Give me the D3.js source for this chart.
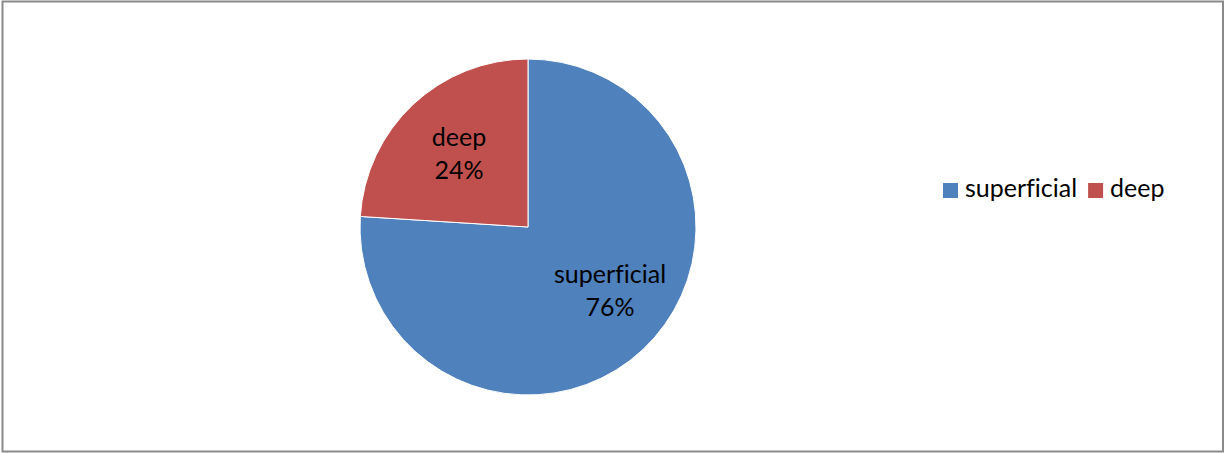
<!DOCTYPE html>
<html>
<head>
<meta charset="utf-8">
<script src="https://cdn.jsdelivr.net/npm/d3@7"></script>
<style>
  html, body { margin: 0; padding: 0; background: #fff; }
  svg { display: block; }
  text { font-family: "Lato", "Liberation Sans", sans-serif; fill: #000; font-variant-ligatures: none; }
</style>
</head>
<body>
<div id="chart"></div>
<script>
const categories = ["superficial", "deep"];
const values = [76, 24];
const colors = ["#4F81BD", "#C0504D"];

const width = 1225;
const height = 453;
const cx = 528, cy = 227, radius = 168;
const fontSize = 25;

const svg = d3.select("#chart")
  .append("svg")
  .attr("width", width)
  .attr("height", height);

// chart frame
svg.append("rect")
  .attr("x", 2.5)
  .attr("y", 1.5)
  .attr("width", 1220.5)
  .attr("height", 450)
  .attr("fill", "#fff")
  .attr("stroke", "#8a8a8a")
  .attr("stroke-width", 2);

const data = categories.map((c, i) => ({ name: c, value: values[i], color: colors[i] }));

const pie = d3.pie()
  .sort(null)
  .value(d => d.value);

const arc = d3.arc().innerRadius(0).outerRadius(radius);
const labelArc = d3.arc().innerRadius(radius * 0.6).outerRadius(radius * 0.6);

const g = svg.append("g").attr("transform", `translate(${cx},${cy})`);

const arcs = pie(data);

g.selectAll("path")
  .data(arcs)
  .join("path")
  .attr("d", arc)
  .attr("fill", d => d.data.color)
  .attr("stroke", "#fff")
  .attr("stroke-width", 1);

// excel "best fit" pulls the big slice label a bit toward the right
const bigNudge = [13, -9];

const total = d3.sum(values);
const label = g.selectAll("g.label")
  .data(arcs)
  .join("g")
  .attr("class", "label")
  .attr("transform", d => {
    let [x, y] = labelArc.centroid(d);
    if (d.endAngle - d.startAngle > Math.PI) {
      x += bigNudge[0];
      y += bigNudge[1];
    }
    return `translate(${x},${y})`;
  });

label.append("text")
  .attr("text-anchor", "middle")
  .attr("y", -8)
  .style("font-size", fontSize + "px")
  .text(d => d.data.name);

label.append("text")
  .attr("text-anchor", "middle")
  .attr("y", 25)
  .style("font-size", fontSize + "px")
  .text(d => Math.round(d.data.value / total * 100) + "%");

// legend
const legend = svg.append("g").attr("transform", "translate(943,183)");
let lx = 0;
data.forEach(d => {
  const item = legend.append("g").attr("transform", `translate(${lx},0)`);
  item.append("rect")
    .attr("width", 15)
    .attr("height", 15)
    .attr("fill", d.color);
  const t = item.append("text")
    .attr("x", 22)
    .attr("y", 14)
    .style("font-size", fontSize + "px")
    .text(d.name);
  lx += 22 + t.node().getComputedTextLength() + 11;
});
</script>
</body>
</html>
